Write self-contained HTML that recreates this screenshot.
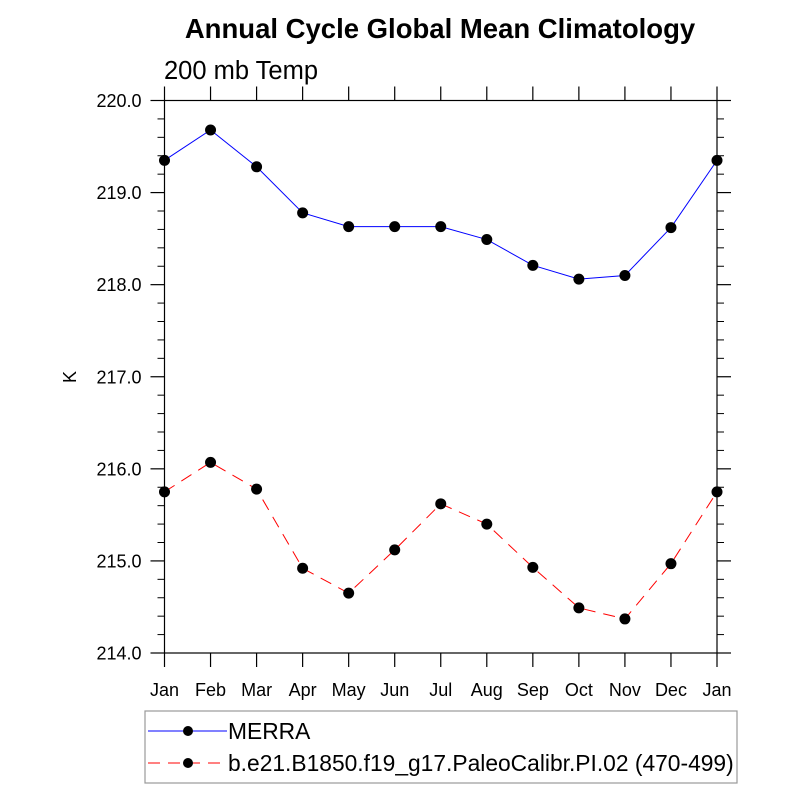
<!DOCTYPE html>
<html><head><meta charset="utf-8"><style>
body{margin:0;background:#fff}
svg text{font-family:"Liberation Sans",Arial,sans-serif}
</style></head><body>
<svg id="chart" width="800" height="800" viewBox="0 0 800 800">
<text x="440" y="38" text-anchor="middle" font-size="27.5" font-weight="bold">Annual Cycle Global Mean Climatology</text>
<text x="164" y="79" font-size="25.5">200 mb Temp</text>
<text transform="translate(76,377) rotate(-90)" text-anchor="middle" font-size="18">K</text>
<g id="axes"></g>
<g id="series"></g>
<rect x="145" y="711" width="592" height="72" fill="none" stroke="#999" stroke-width="1.2"/>
<g>
<line x1="148" y1="731" x2="227" y2="731" stroke="#0000ff" stroke-width="1"/>
<circle cx="188" cy="731" r="5" fill="#000"/>
<text x="228" y="739" font-size="22.8">MERRA</text></g>
<g>
<line x1="148" y1="763" x2="227" y2="763" stroke="#ff0000" stroke-width="1" stroke-dasharray="12,8"/>
<circle cx="188" cy="763" r="5" fill="#000"/>
<text x="228" y="771" font-size="22.8">b.e21.B1850.f19_g17.PaleoCalibr.PI.02 (470-499)</text></g>
</svg>
<script>
const months=["Jan","Feb","Mar","Apr","May","Jun","Jul","Aug","Sep","Oct","Nov","Dec","Jan"];
const merra=[219.35,219.68,219.28,218.78,218.63,218.63,218.63,218.49,218.21,218.06,218.10,218.62,219.35];
const model=[215.75,216.07,215.78,214.92,214.65,215.12,215.62,215.40,214.93,214.49,214.37,214.97,215.75];
const yTicks=["214.0","215.0","216.0","217.0","218.0","219.0","220.0"];
const NS="http://www.w3.org/2000/svg";
const L=164.5,R=717,T=100.5,B=653,ymin=214,ymax=220;
const xs=i=>L+(R-L)*i/(months.length-1);
const ys=v=>B-(v-ymin)/(ymax-ymin)*(B-T);
function mk(tag,attrs,parent){const e=document.createElementNS(NS,tag);for(const k in attrs)e.setAttribute(k,attrs[k]);parent.appendChild(e);return e;}
const ax=document.getElementById('axes');
const fr=mk('rect',{x:L,y:T,width:R-L,height:B-T,fill:'none',stroke:'#000','stroke-width':1.2},ax);


months.forEach((m,i)=>{const x=xs(i);
mk('line',{x1:x,y1:B,x2:x,y2:B+14,stroke:'#000','stroke-width':1.2},ax);
mk('line',{x1:x,y1:T,x2:x,y2:T-14,stroke:'#000','stroke-width':1.2},ax);
const t=mk('text',{x:x,y:B+43,'text-anchor':'middle','font-size':18},ax);t.textContent=m;

});
for(let v=ymin;v<=ymax+1e-9;v+=0.2){const y=ys(v);const maj=Math.abs(v-Math.round(v))<1e-6;const len=maj?14:7;
mk('line',{x1:L,y1:y,x2:L-len,y2:y,stroke:'#000','stroke-width':maj?1.2:1},ax);
mk('line',{x1:R,y1:y,x2:R+len,y2:y,stroke:'#000','stroke-width':maj?1.2:1},ax);}
yTicks.forEach(s=>{const y=ys(parseFloat(s));const t=mk('text',{x:L-23,y:y+6.5,'text-anchor':'end','font-size':18},ax);t.textContent=s;

});
const sg=document.getElementById('series');
function draw(vals,color,dash,name){
const g=mk('g',{},sg);


const pts=vals.map((v,i)=>xs(i)+','+ys(v)).join(' ');
const a={points:pts,fill:'none',stroke:color,'stroke-width':1};if(dash)a['stroke-dasharray']=dash;
mk('polyline',a,g);
vals.forEach((v,i)=>{const c=mk('circle',{cx:xs(i),cy:ys(v),r:5.5,fill:'#000'},g);

});}
draw(merra,'#0000ff',null,'merra-series');
draw(model,'#ff0000','12,8','model-series');
</script>
</body></html>
